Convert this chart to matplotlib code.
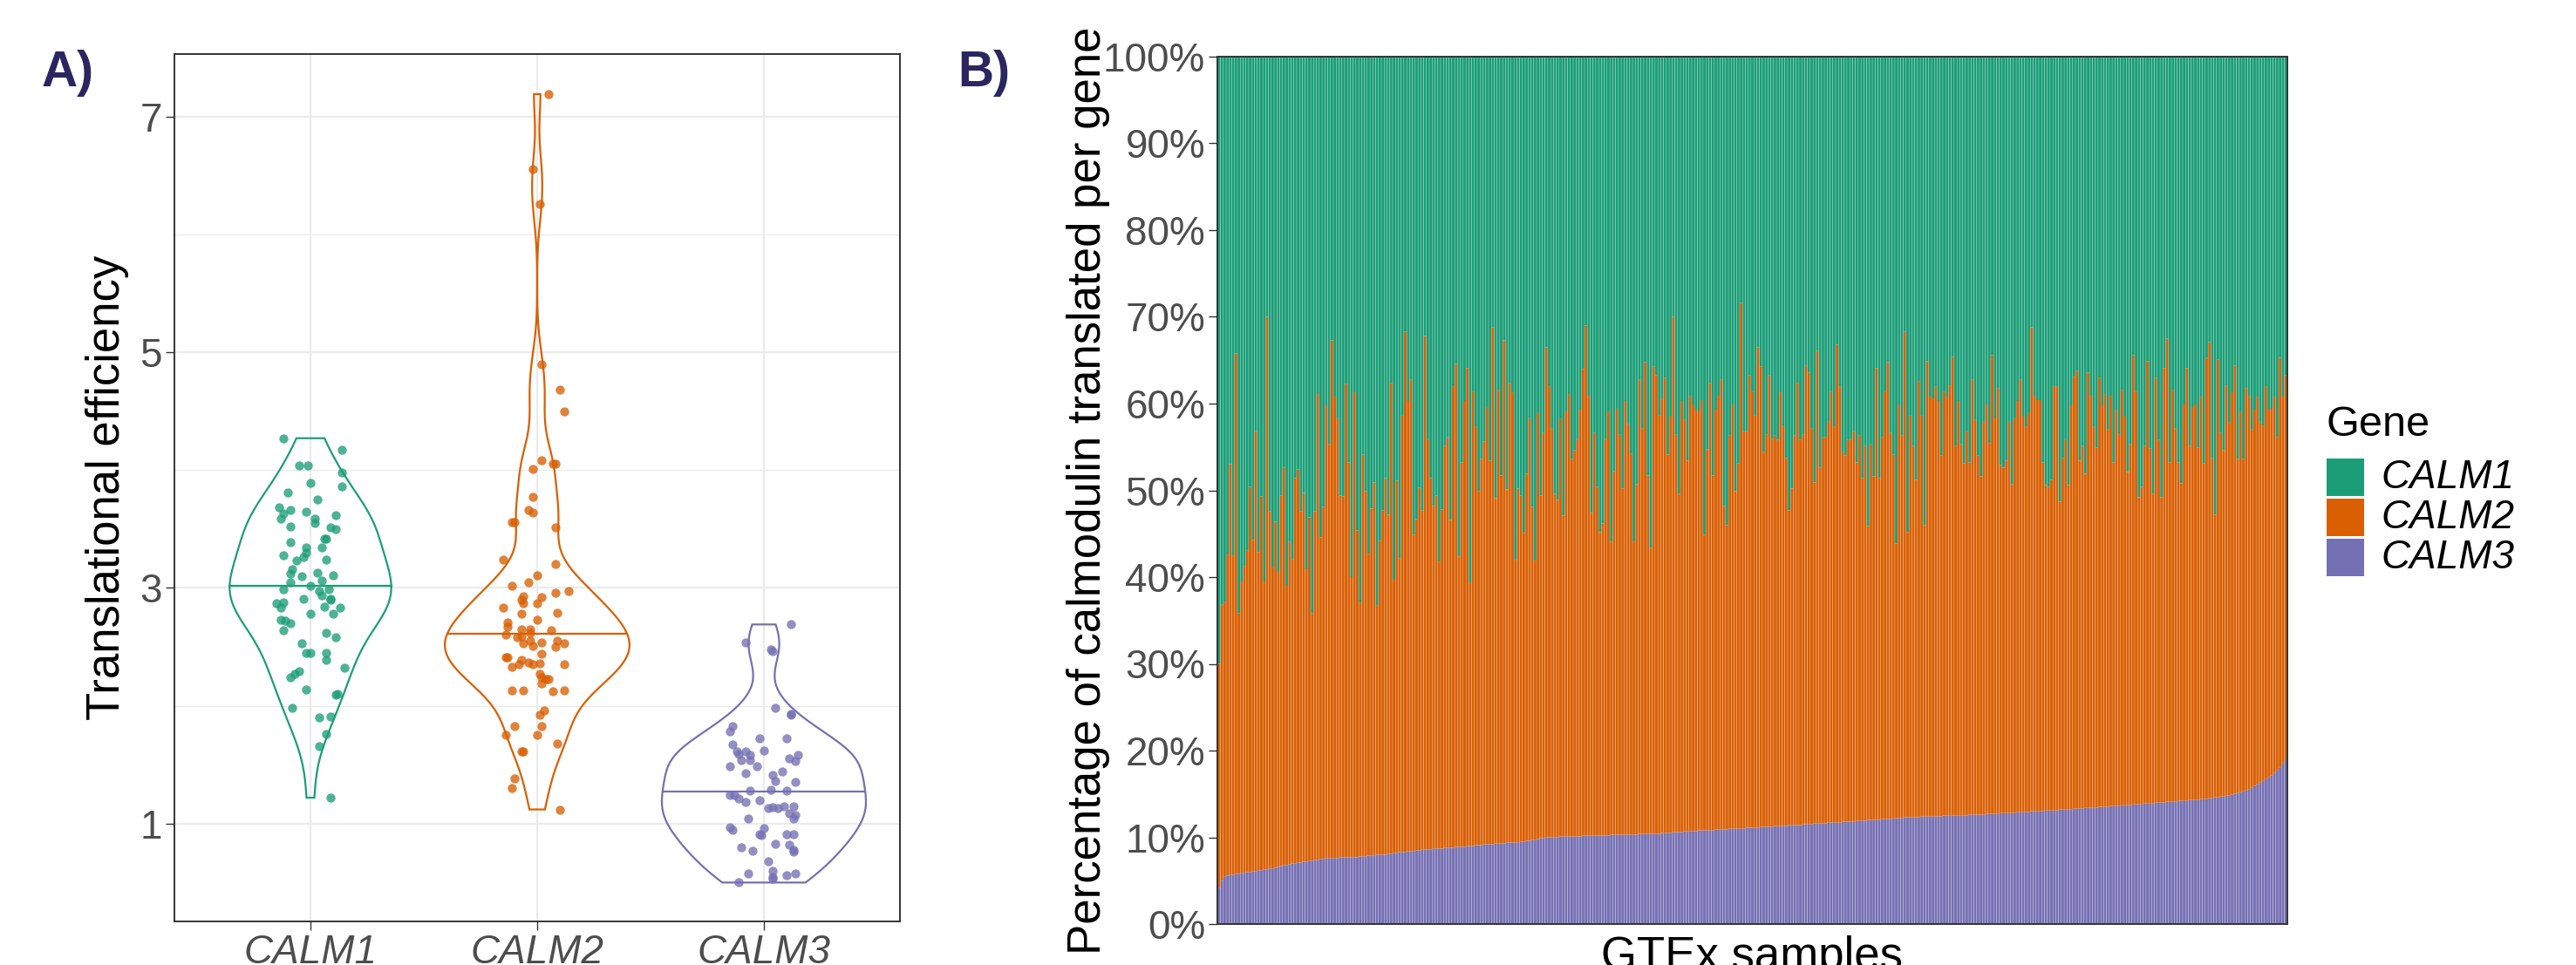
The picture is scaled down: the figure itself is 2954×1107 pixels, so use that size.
import numpy as np
import matplotlib.pyplot as plt
from matplotlib.patches import Rectangle

plt.rcParams['font.family'] = ['Liberation Sans', 'DejaVu Sans']

genes = ['CALM1', 'CALM2', 'CALM3']
gene_colors = ['#1B9E77', '#D95F02', '#7570B3']
label_color = '#2B2660'

# ---- panel A: translational efficiency, with the jitter offset of each point
te_calm1 = [4.27, 4.17, 4.04, 4.04, 3.98, 3.86, 3.89, 3.81, 3.75, 3.68, 3.66, 3.63, 3.59, 3.65, 3.59,
            3.62, 3.52, 3.55, 3.51, 3.50, 3.42, 3.42, 3.39, 3.34, 3.34, 3.30, 3.26, 3.28, 3.23, 3.16,
            3.24, 3.13, 3.12, 3.11, 3.10, 3.02, 3.06, 3.05, 2.99, 2.99, 2.97, 2.94, 2.91, 2.90, 2.91,
            2.88, 2.87, 2.83, 2.84, 2.83, 2.78, 2.78, 2.73, 2.72, 2.70, 2.62, 2.64, 2.58, 2.53, 2.45,
            2.45, 2.45, 2.39, 2.32, 2.29, 2.27, 2.24, 2.14, 2.10, 2.09, 1.98, 1.90, 1.91, 1.76, 1.66,
            1.22]
jit_calm1 = [-0.12, 0.14, -0.05, -0.01, 0.14, 0.14, 0.00, -0.10, 0.03, -0.14, -0.09, -0.12, -0.13, -0.02, 0.02,
             0.11, -0.09, 0.02, 0.09, 0.11, 0.07, 0.06, -0.09, -0.02, 0.05, -0.02, -0.03, -0.12, -0.06, -0.08,
             0.07, 0.03, -0.09, 0.10, -0.04, 0.00, 0.05, -0.09, 0.08, -0.12, 0.04, 0.05, 0.09, 0.09, -0.03,
             -0.12, -0.15, -0.13, 0.06, 0.13, 0.10, 0.00, -0.13, -0.11, -0.09, 0.07, -0.12, 0.11, -0.04, -0.02,
             0.00, 0.07, 0.07, 0.15, -0.05, -0.07, -0.09, -0.02, 0.12, 0.11, -0.08, 0.04, 0.09, 0.07, 0.04,
             0.09]

te_calm2 = [7.19, 6.55, 6.26, 4.90, 4.68, 4.50, 4.08, 4.05, 4.05, 4.01, 3.77, 3.66, 3.64, 3.56, 3.56,
            3.51, 3.24, 3.20, 3.11, 3.05, 3.02, 2.97, 2.96, 2.92, 2.93, 2.90, 2.87, 2.87, 2.83, 2.79,
            2.78, 2.71, 2.73, 2.67, 2.65, 2.65, 2.64, 2.62, 2.60, 2.58, 2.59, 2.55, 2.55, 2.54, 2.53,
            2.51, 2.53, 2.50, 2.41, 2.41, 2.44, 2.39, 2.37, 2.35, 2.36, 2.33, 2.35, 2.35, 2.27, 2.24,
            2.23, 2.19, 2.23, 2.13, 2.13, 2.12, 2.13, 1.96, 1.92, 1.83, 1.83, 1.75, 1.75, 1.68, 1.61,
            1.61, 1.38, 1.30, 1.12]
jit_calm2 = [0.05, -0.02, 0.01, 0.02, 0.10, 0.12, 0.02, 0.07, 0.08, -0.02, -0.02, -0.04, -0.02, -0.11, -0.10,
             0.08, -0.15, 0.08, 0.00, -0.04, -0.11, 0.14, 0.08, 0.02, -0.06, -0.07, -0.06, 0.00, -0.15, 0.09,
             -0.07, -0.13, 0.00, -0.13, -0.07, -0.03, 0.06, -0.03, -0.14, -0.09, -0.07, -0.03, 0.09, 0.02, 0.12,
             -0.02, -0.06, 0.08, -0.13, -0.14, 0.02, -0.07, -0.04, -0.02, 0.01, -0.11, -0.08, 0.12, 0.01, 0.02,
             0.05, 0.02, 0.04, -0.11, -0.06, 0.07, 0.12, 0.03, 0.01, -0.10, 0.02, 0.00, -0.14, 0.09, -0.07,
             -0.06, -0.10, -0.11, 0.10]

te_calm3 = [2.69, 2.54, 2.48, 2.46, 1.98, 1.93, 1.83, 1.92, 1.72, 1.78, 1.72, 1.67, 1.62, 1.61, 1.61,
            1.59, 1.58, 1.49, 1.54, 1.55, 1.58, 1.53, 1.54, 1.43, 1.44, 1.49, 1.41, 1.35, 1.36, 1.29,
            1.28, 1.28, 1.24, 1.24, 1.21, 1.18, 1.20, 1.15, 1.15, 1.14, 1.13, 1.13, 1.09, 1.04, 1.07,
            1.04, 0.97, 0.95, 0.96, 0.91, 0.90, 0.91, 0.91, 0.83, 0.80, 0.82, 0.78, 0.77, 0.76, 0.68,
            0.58, 0.60, 0.58, 0.55, 0.56, 0.50, 0.53]
jit_calm3 = [0.12, -0.08, 0.03, 0.04, 0.05, 0.12, -0.14, 0.12, -0.02, -0.15, 0.10, -0.14, 0.00, -0.12, -0.08,
             -0.11, -0.06, -0.15, -0.06, 0.11, 0.15, 0.14, -0.10, -0.08, 0.08, -0.03, 0.04, 0.14, 0.05, 0.03,
             -0.06, 0.10, -0.13, -0.15, -0.11, -0.08, -0.02, 0.13, 0.09, 0.04, 0.06, 0.02, 0.11, -0.07, 0.14,
             0.13, -0.15, -0.14, 0.00, -0.02, -0.01, 0.10, 0.13, 0.05, -0.10, 0.11, 0.13, -0.05, 0.13, 0.02,
             -0.07, 0.04, 0.14, 0.04, 0.10, -0.11, 0.04]

# ---- panel B: share of calmodulin per GTEx sample (%), samples sorted by CALM3
calm3_share = [
    4.2, 5.0, 5.5, 5.6, 5.7, 5.7, 5.8, 5.8, 5.9, 5.9,
    6.0, 6.0, 6.1, 6.1, 6.2, 6.2, 6.3, 6.3, 6.4, 6.4,
    6.5, 6.6, 6.7, 6.8, 6.8, 6.9, 7.0, 7.0, 7.1, 7.1,
    7.2, 7.2, 7.3, 7.3, 7.4, 7.4, 7.5, 7.5, 7.6, 7.6,
    7.6, 7.6, 7.6, 7.7, 7.7, 7.7, 7.7, 7.7, 7.7, 7.7,
    7.8, 7.8, 7.8, 7.9, 7.9, 7.9, 8.0, 8.0, 8.0, 8.0,
    8.1, 8.1, 8.2, 8.2, 8.3, 8.3, 8.3, 8.4, 8.4, 8.4,
    8.5, 8.5, 8.6, 8.6, 8.6, 8.6, 8.7,
    8.7, 8.7, 8.7, 8.8, 8.8, 8.8, 8.8, 8.9, 8.9, 8.9,
    8.9, 9.0, 9.0, 9.0, 9.1, 9.1, 9.1, 9.2, 9.2, 9.2,
    9.2, 9.3, 9.3, 9.3, 9.3, 9.4, 9.4, 9.4, 9.4, 9.4,
    9.5, 9.5, 9.6, 9.6, 9.7, 9.7, 9.8, 9.9, 9.9, 10.0,
    10.0, 10.0, 10.0, 10.0, 10.1, 10.1, 10.1, 10.1, 10.1, 10.1,
    10.1, 10.1, 10.2, 10.2, 10.2, 10.2, 10.2, 10.2, 10.2, 10.2,
    10.2, 10.2, 10.3, 10.3, 10.3, 10.3, 10.3, 10.3, 10.3, 10.3,
    10.3, 10.3, 10.4, 10.4, 10.4, 10.4, 10.4, 10.4,
    10.4, 10.4, 10.5, 10.5, 10.5, 10.5, 10.6, 10.6, 10.6, 10.6,
    10.7, 10.7, 10.7, 10.7, 10.7, 10.8, 10.8, 10.8, 10.8, 10.8,
    10.8, 10.9, 10.9, 10.9, 10.9, 10.9, 11.0, 11.0, 11.0, 11.0,
    11.0, 11.0, 11.1, 11.1, 11.1, 11.1, 11.1, 11.2, 11.2, 11.2,
    11.2, 11.2, 11.3, 11.3, 11.3, 11.3, 11.3, 11.4, 11.4, 11.4,
    11.4, 11.4, 11.5, 11.5, 11.5, 11.5, 11.6, 11.6, 11.6, 11.6,
    11.6, 11.7, 11.7, 11.7, 11.7, 11.7, 11.8, 11.8, 11.8, 11.8,
    11.8, 11.9, 11.9, 11.9, 11.9, 12.0, 12.0, 12.0,
    12.0, 12.0, 12.1, 12.1, 12.1, 12.1, 12.2, 12.2, 12.2, 12.2,
    12.3, 12.3, 12.3, 12.3, 12.3, 12.3, 12.4, 12.4, 12.4, 12.4,
    12.4, 12.4, 12.4, 12.4, 12.5, 12.5, 12.5, 12.5, 12.5, 12.5,
    12.5, 12.5, 12.5, 12.6, 12.6, 12.6, 12.6, 12.6, 12.6, 12.7,
    12.7, 12.7, 12.7, 12.7, 12.8, 12.8, 12.8, 12.8, 12.8, 12.8,
    12.9, 12.9, 12.9, 12.9, 12.9, 13.0, 13.0, 13.0, 13.0, 13.0,
    13.1, 13.1, 13.1, 13.1, 13.1, 13.2, 13.2, 13.2, 13.2, 13.2,
    13.3, 13.3, 13.3, 13.3, 13.4, 13.4, 13.4, 13.4,
    13.4, 13.5, 13.5, 13.5, 13.5, 13.6, 13.6, 13.6, 13.6, 13.7,
    13.7, 13.7, 13.7, 13.8, 13.8, 13.8, 13.8, 13.9, 13.9, 13.9,
    13.9, 14.0, 14.0, 14.0, 14.0, 14.1, 14.1, 14.1, 14.1, 14.2,
    14.2, 14.2, 14.2, 14.3, 14.3, 14.3, 14.3, 14.4, 14.4, 14.4,
    14.5, 14.5, 14.6, 14.6, 14.7, 14.7, 14.8, 14.8, 14.9, 15.0,
    15.1, 15.2, 15.3, 15.4, 15.5, 15.7, 15.9, 16.1, 16.3, 16.5,
    16.7, 16.9, 17.1, 17.4, 17.7, 18.0, 18.5, 19.0,
]
# upper edge of the CALM2 band (CALM3 + CALM2 share, %)
calm2_top = [
    30.0, 36.8, 37.1, 42.6, 53.0, 42.5, 65.8, 35.8, 39.5, 41.3,
    43.1, 50.4, 44.3, 56.8, 42.9, 49.3, 39.5, 70.0, 47.6, 41.1,
    46.4, 40.6, 49.4, 52.6, 39.0, 44.1, 42.1, 51.4, 52.4, 47.6,
    49.7, 40.9, 46.9, 35.8, 47.6, 61.1, 44.6, 48.1, 59.8, 55.3,
    67.3, 60.8, 58.3, 49.4, 49.3, 62.3, 53.2, 40.0, 61.3, 45.4,
    37.0, 54.1, 49.9, 42.7, 47.9, 50.9, 36.7, 44.2, 47.7, 51.4,
    47.2, 62.4, 39.7, 51.1, 42.2, 58.6, 68.3, 60.3, 62.8, 44.9,
    46.7, 50.3, 47.7, 67.8, 55.9, 51.4, 48.2,
    49.4, 41.8, 47.8, 55.1, 56.1, 46.6, 62.0, 64.6, 42.4, 53.2,
    60.3, 64.1, 39.4, 61.4, 57.3, 49.9, 53.6, 55.6, 59.6, 53.4,
    68.8, 49.1, 61.6, 51.7, 67.3, 50.1, 62.4, 61.3, 42.0, 50.2,
    49.4, 45.1, 51.9, 58.3, 48.1, 41.9, 58.9, 49.4, 56.6, 66.5,
    62.0, 57.1, 49.6, 48.9, 58.3, 47.1, 59.1, 61.1, 53.6, 54.6,
    55.9, 59.3, 64.0, 69.0, 60.9, 47.4, 56.6, 50.4, 45.2, 46.2,
    55.9, 59.1, 44.1, 52.2, 59.4, 56.4, 50.2, 60.3, 57.6, 54.2,
    44.1, 50.7, 62.8, 57.1, 64.8, 51.7, 43.4, 64.3,
    63.3, 58.6, 60.6, 63.0, 54.1, 58.5, 70.0, 56.4, 49.6, 60.3,
    58.1, 53.4, 60.9, 59.9, 59.3, 59.1, 60.4, 44.9, 54.7, 62.4,
    51.7, 59.3, 60.9, 62.8, 48.2, 46.0, 56.3, 59.9, 49.9, 53.1,
    71.6, 56.8, 56.8, 63.3, 61.4, 58.6, 66.5, 64.3, 54.4, 56.4,
    63.3, 55.9, 56.3, 55.8, 61.3, 57.4, 53.7, 47.7, 50.2, 56.3,
    62.4, 55.8, 56.4, 64.4, 63.6, 57.1, 50.9, 66.1, 52.6, 56.1,
    56.1, 57.9, 61.4, 57.3, 66.8, 62.0, 54.4, 54.0, 55.8, 55.9,
    56.8, 53.2, 56.3, 51.4, 55.1, 45.9, 55.3, 51.6,
    64.1, 51.4, 56.1, 61.4, 64.8, 56.6, 54.1, 43.9, 59.9, 56.3,
    68.3, 45.2, 58.6, 55.1, 51.2, 62.6, 58.6, 46.0, 64.9, 60.8,
    60.6, 62.0, 60.3, 54.0, 61.4, 60.8, 62.1, 65.4, 55.1, 60.3,
    55.3, 53.1, 56.8, 53.2, 62.8, 58.1, 54.0, 51.6, 57.9, 59.9,
    55.4, 65.6, 58.3, 61.8, 52.9, 52.6, 53.4, 57.9, 50.7, 58.3,
    60.3, 62.8, 58.5, 57.3, 58.9, 68.8, 60.9, 60.4, 60.4, 53.2,
    50.6, 50.4, 51.2, 62.0, 62.0, 48.7, 53.7, 55.9, 50.6, 59.8,
    63.1, 63.8, 53.4, 55.1, 51.9, 63.6, 60.9, 57.3,
    54.9, 63.0, 59.8, 61.1, 57.0, 60.9, 53.2, 59.3, 56.4, 61.6,
    58.5, 52.1, 55.3, 65.6, 61.4, 49.2, 50.4, 55.1, 64.9, 54.8,
    49.6, 63.0, 55.8, 49.2, 64.1, 67.5, 53.2, 61.6, 57.1, 53.2,
    50.8, 59.9, 64.1, 55.1, 59.6, 59.9, 54.9, 60.8, 53.1, 65.3,
    67.1, 53.7, 47.2, 65.1, 56.6, 54.6, 62.1, 57.8, 61.3, 64.4,
    53.6, 59.1, 53.6, 61.8, 60.9, 57.0, 59.3, 60.8, 57.9, 57.4,
    62.0, 59.3, 59.4, 60.8, 56.1, 65.3, 60.8, 63.3,
]

W, H = 2954, 1107
fig = plt.figure(figsize=(W / 100, H / 100), dpi=100)

tick_col = '#4D4D4D'
frame_col = '#333333'


def nrd0(x):
    # R's default bandwidth (bw.nrd0)
    sd = np.std(x, ddof=1)
    iqr = np.subtract(*np.percentile(x, [75, 25]))
    return 0.9 * min(sd, iqr / 1.34) * len(x) ** -0.2


def ydensity(x, n=512):
    x = np.asarray(x)
    bw = nrd0(x)
    yy = np.linspace(x.min(), x.max(), n)
    d = np.exp(-0.5 * ((yy[:, None] - x[None, :]) / bw) ** 2).sum(1) / (len(x) * bw * np.sqrt(2 * np.pi))
    return yy, d


# ---------------- panel A
axA = fig.add_axes([200 / W, 1 - 1057 / H, 832 / W, 995 / H])
values = [te_calm1, te_calm2, te_calm3]
jitters = [jit_calm1, jit_calm2, jit_calm3]
dens = [ydensity(v) for v in values]
dmax = max(d.max() for _, d in dens)

for i, (vals, jit, (yy, d), col) in enumerate(zip(values, jitters, dens, gene_colors)):
    c = i + 1
    hw = 0.45 * d / dmax  # scale = "area"
    axA.fill(np.r_[c - hw, (c + hw)[::-1]], np.r_[yy, yy[::-1]],
             facecolor='none', edgecolor=col, lw=1.6, zorder=2)
    cdf = np.cumsum(d)
    cdf = cdf / cdf[-1]
    ym = np.interp(0.5, cdf, yy)
    hm = np.interp(ym, yy, hw)
    axA.plot([c - hm, c + hm], [ym, ym], color=col, lw=1.6, zorder=3)
    axA.scatter(c + np.array(jit), vals, s=56, color=col, alpha=0.78, lw=0, zorder=4)

axA.set_xlim(0.4, 3.6)
axA.set_ylim(0.17, 7.53)
axA.set_xticks([1, 2, 3])
axA.set_xticklabels(genes, style='italic')
axA.set_yticks([1, 3, 5, 7])
axA.set_yticks([2, 4, 6], minor=True)
axA.grid(True, which='major', color='#EBEBEB', lw=1.6)
axA.grid(True, which='minor', axis='y', color='#EBEBEB', lw=0.9)
axA.set_axisbelow(True)
axA.tick_params(which='major', labelsize=33, colors=frame_col, labelcolor=tick_col,
                length=7, width=1.0, pad=3)
axA.tick_params(which='minor', length=0)
for s in axA.spines.values():
    s.set_color(frame_col)
    s.set_linewidth(1.4)
axA.set_ylabel('Translational efficiency', fontsize=38, color='black')
axA.yaxis.set_label_coords(-0.0925, 0.5)
axA.yaxis.label.set_verticalalignment('center')

# ---------------- panel B
axB = fig.add_axes([1396 / W, 1 - 1060 / H, 1227 / W, 995 / H])
c3 = np.array(calm3_share)
top = np.array(calm2_top)
xs = np.arange(len(c3))
bw_bar = 0.9
stacks = [(c3, 0, gene_colors[2]), (top - c3, c3, gene_colors[1]), (100 - top, top, gene_colors[0])]
for h, b, col in stacks:
    bars = axB.bar(xs, h, bottom=b, width=bw_bar, color=col, lw=0)
    for p in bars:
        p.set_snap(False)
axB.set_xlim(-0.6, len(xs) - 0.4)
axB.set_ylim(0, 100)
axB.set_yticks(range(0, 101, 10))
axB.set_yticklabels([f'{v}%' for v in range(0, 101, 10)])
axB.set_xticks([])
axB.tick_params(axis='y', labelsize=33, colors=frame_col, labelcolor=tick_col,
                length=7, width=1.0, pad=3)
for s in axB.spines.values():
    s.set_color(frame_col)
    s.set_linewidth(1.4)
axB.set_ylabel('Percentage of calmodulin translated per gene', fontsize=38, color='black')
axB.yaxis.set_label_coords(-0.121, 0.5)
axB.yaxis.label.set_verticalalignment('center')
axB.set_xlabel('GTEx samples', fontsize=38, color='black')
axB.xaxis.set_label_coords(0.5, -13 / 995)

# legend
fig.text(2668 / W, 1 - 487 / H, 'Gene', fontsize=35, va='center', ha='left')
key_tops = [526, 572, 618]
for g, col, kt in zip(genes, gene_colors, key_tops):
    fig.add_artist(Rectangle((2668 / W, 1 - (kt + 43) / H), 43 / W, 43 / H,
                             transform=fig.transFigure, facecolor=col, edgecolor='none'))
    fig.text(2730 / W, 1 - (kt + 22) / H, g, fontsize=33, style='italic', va='center', ha='left')

# panel tags
fig.text(48 / W, 1 - 99 / H, 'A)', fontsize=41, fontweight='bold', color=label_color,
         ha='left', va='baseline')
fig.text(1098 / W, 1 - 99 / H, 'B)', fontsize=41, fontweight='bold', color=label_color,
         ha='left', va='baseline')

fig.savefig('out.png', dpi=100)
